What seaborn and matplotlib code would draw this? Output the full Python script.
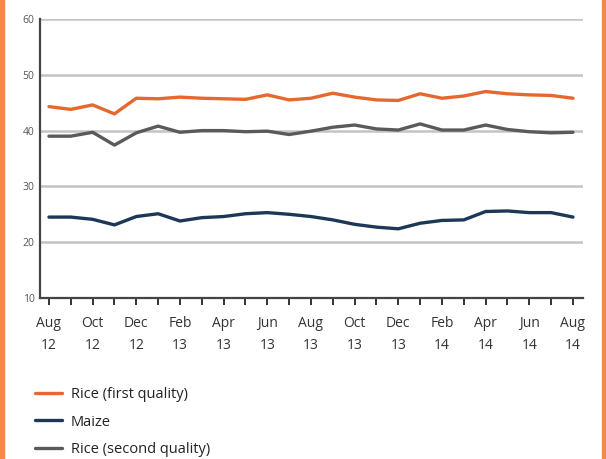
import matplotlib.pyplot as plt
import matplotlib.patches as mpatches
import pandas as pd
import seaborn as sns

months = ["Aug", "Sep", "Oct", "Nov", "Dec", "Jan", "Feb", "Mar", "Apr", "May", "Jun", "Jul",
          "Aug", "Sep", "Oct", "Nov", "Dec", "Jan", "Feb", "Mar", "Apr", "May", "Jun", "Jul", "Aug"]
years = ["12"] * 5 + ["13"] * 12 + ["14"] * 8

rice_first = [44.3, 43.8, 44.6, 43.0, 45.8, 45.7, 46.0, 45.8, 45.7, 45.6, 46.4, 45.5,
              45.8, 46.7, 46.0, 45.5, 45.4, 46.6, 45.8, 46.2, 47.0, 46.6, 46.4, 46.3, 45.8]
maize = [24.5, 24.5, 24.1, 23.1, 24.6, 25.1, 23.8, 24.4, 24.6, 25.1, 25.3, 25.0,
         24.6, 24.0, 23.2, 22.7, 22.4, 23.4, 23.9, 24.0, 25.5, 25.6, 25.3, 25.3, 24.5]
rice_second = [39.0, 39.0, 39.7, 37.4, 39.6, 40.8, 39.7, 40.0, 40.0, 39.8, 39.9, 39.3,
               39.9, 40.6, 41.0, 40.3, 40.1, 41.2, 40.1, 40.1, 41.0, 40.2, 39.8, 39.6, 39.7]

series_names = ["Rice (first quality)", "Maize", "Rice (second quality)"]
colors = ["#e5692e", "#1d3857", "#5a5a5a"]

n = len(months)
df = pd.DataFrame({
    "idx": list(range(n)) * 3,
    "price": rice_first + maize + rice_second,
    "series": [series_names[0]] * n + [series_names[1]] * n + [series_names[2]] * n,
})

sns.set_theme(style="white")
plt.rcParams["font.family"] = ["Open Sans", "DejaVu Sans"]

fig = plt.figure(figsize=(6.06, 4.59), dpi=100)
fig.patch.set_facecolor("white")
ax = fig.add_axes([40 / 606, 1 - 298 / 459, 543 / 606, 279 / 459])

for y in [20, 30, 40, 50, 60]:
    ax.axhline(y, color="#c4c4c4", lw=1.8, zorder=0)

sns.lineplot(data=df, x="idx", y="price", hue="series", hue_order=series_names,
             palette=colors, linewidth=2.4, ax=ax, legend=False)

ax.set_xlim(-0.41, 24.46)
ax.set_ylim(10, 60)
ax.set_yticks([10, 20, 30, 40, 50, 60])
ax.tick_params(axis="y", labelsize=7.5, labelcolor="#555555", length=0, pad=4)
major = list(range(0, n, 2))
ax.set_xticks(major)
ax.set_xticklabels([f"{months[i]}\n{years[i]}" for i in major], fontsize=10, color="#333333",
                   linespacing=1.65)
ax.set_xticks(list(range(1, n, 2)), minor=True)
ax.tick_params(axis="x", which="both", direction="out", length=5, width=1.4, color="#333333",
               bottom=True, pad=8)
ax.set_xlabel("")
ax.set_ylabel("")
for s in ["top", "right"]:
    ax.spines[s].set_visible(False)
for s in ["left", "bottom"]:
    ax.spines[s].set_color("#444444")
    ax.spines[s].set_linewidth(1.6)

handles = [plt.Line2D([], [], color=c, lw=2.4) for c in colors]
fig.legend(handles, series_names, loc="upper left", bbox_to_anchor=(22 / 606, 1 - 374 / 459),
           frameon=False, fontsize=10.5, handlelength=1.85, labelspacing=0.85,
           handletextpad=0.6, labelcolor="#222222")

# orange frame strips at the sides
fig.patches.append(mpatches.Rectangle((0, 0), 4 / 606, 1, transform=fig.transFigure,
                                      color="#f08a4b", zorder=5))
fig.patches.append(mpatches.Rectangle((1 - 4 / 606, 0), 4 / 606, 1, transform=fig.transFigure,
                                      color="#f08a4b", zorder=5))

fig.savefig("out.png", dpi=100)
